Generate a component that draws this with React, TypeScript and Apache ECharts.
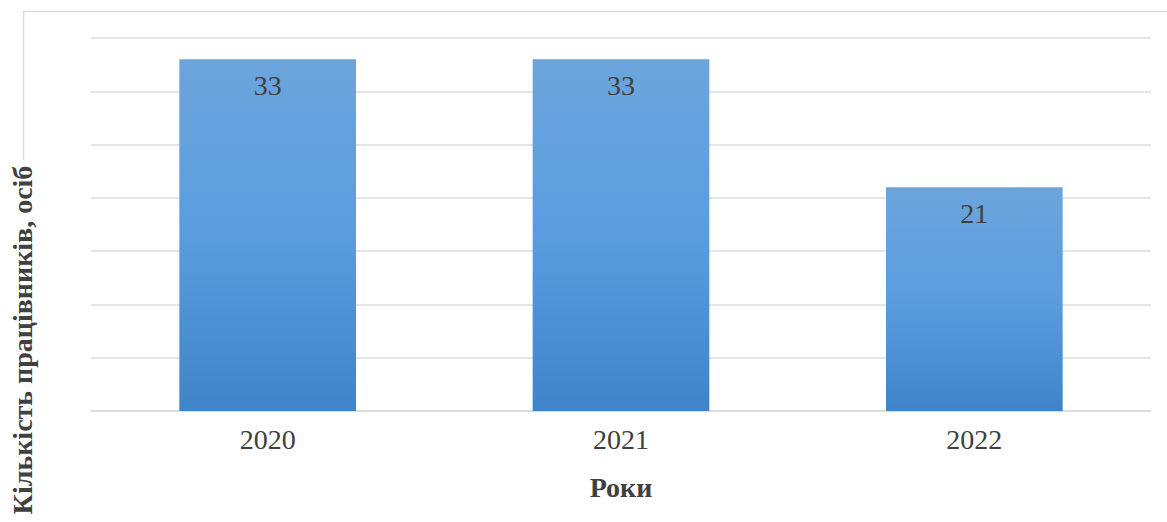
import React, { useEffect, useRef } from "react";
import * as echarts from "echarts";

const years = ["2020", "2021", "2022"];
const employees = [33, 33, 21];
const yMin = 0;
const yMax = 35;
const yStep = 5;

const xTitle = "Роки";
const yTitle = "Кількість працівників, осіб";

const serif = "'Liberation Serif', 'Times New Roman', serif";

export default function App() {
  const ref = useRef<HTMLDivElement>(null);

  useEffect(() => {
    document.body.style.margin = "0";
    const chart = echarts.init(ref.current!, null, { renderer: "svg" });
    chart.setOption({
      animation: false,
      backgroundColor: "#ffffff",
      grid: { left: 91, right: 16, top: 38, bottom: 111 },
      xAxis: {
        type: "category",
        data: years,
        axisLine: { show: true, lineStyle: { color: "#d9d9d9", width: 1.5 } },
        axisTick: { show: false },
        axisLabel: {
          color: "#404040",
          fontFamily: serif,
          fontSize: 28,
          margin: 14,
        },
        name: xTitle,
        nameLocation: "middle",
        nameGap: 62,
        nameTextStyle: {
          color: "#404040",
          fontFamily: serif,
          fontSize: 28,
          fontWeight: "bold",
        },
      },
      yAxis: {
        type: "value",
        min: yMin,
        max: yMax,
        interval: yStep,
        axisLabel: { show: false },
        axisLine: { show: false },
        axisTick: { show: false },
        splitLine: { lineStyle: { color: "#d9dde3", width: 1.5 } },
      },
      series: [
        {
          type: "bar",
          data: employees,
          barWidth: "50%",
          itemStyle: {
            color: new echarts.graphic.LinearGradient(0, 0, 0, 1, [
              { offset: 0, color: "#6ca5dc" },
              { offset: 0.5, color: "#5a9ddf" },
              { offset: 1, color: "#3f84c8" },
            ]),
          },
          label: {
            show: true,
            position: "insideTop",
            distance: 12,
            color: "#404040",
            fontFamily: serif,
            fontSize: 28,
          },
        },
      ],
      graphic: [
        {
          type: "polyline",
          shape: { points: [[23.5, 160], [23.5, 11.5], [1167, 11.5]] },
          style: { stroke: "#dcdcdc", lineWidth: 1.5, fill: null },
          silent: true,
        },
        {
          type: "text",
          x: 22,
          y: 340,
          rotation: Math.PI / 2,
          style: {
            text: yTitle,
            fill: "#404040",
            font: `bold 28px ${serif}`,
            align: "center",
            verticalAlign: "middle",
          },
        },
      ],
    });
    return () => chart.dispose();
  }, []);

  return <div ref={ref} style={{ width: 1167, height: 522 }} />;
}
